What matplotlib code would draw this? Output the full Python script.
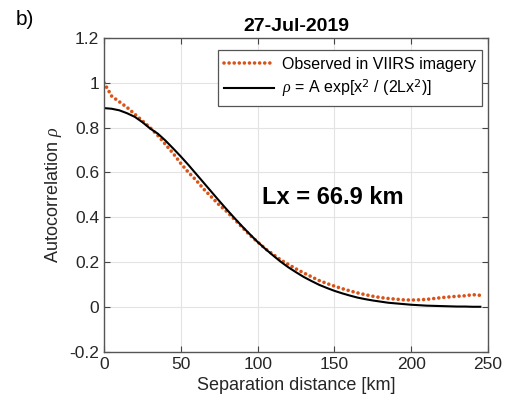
import numpy as np
import matplotlib.pyplot as plt

plt.rcParams['font.family'] = ['Liberation Sans', 'DejaVu Sans']
plt.rcParams['mathtext.fontset'] = 'custom'
plt.rcParams['mathtext.it'] = 'Liberation Serif:italic'

# observed autocorrelation (5 km spacing)
obs_x = np.arange(0, 250, 5)
obs_rho = [1.00, 0.94, 0.915, 0.89, 0.86, 0.83, 0.80, 0.765, 0.725, 0.685,
           0.64, 0.60, 0.565, 0.525, 0.49, 0.455, 0.425, 0.39, 0.355, 0.32,
           0.29, 0.26, 0.235, 0.21, 0.19, 0.17, 0.152, 0.135, 0.118, 0.105,
           0.093, 0.082, 0.072, 0.063, 0.055, 0.048, 0.042, 0.038, 0.035, 0.032,
           0.031, 0.032, 0.034, 0.038, 0.042, 0.045, 0.048, 0.050, 0.055, 0.052]

# fitted gaussian curve (5 km spacing)
fit_x = np.arange(0, 250, 5)
fit_rho = [0.887, 0.884, 0.877, 0.864, 0.848, 0.824, 0.796, 0.773, 0.742, 0.707,
           0.671, 0.633, 0.593, 0.553, 0.513, 0.473, 0.434, 0.396, 0.359, 0.324,
           0.290, 0.259, 0.230, 0.202, 0.177, 0.155, 0.134, 0.116, 0.099, 0.085,
           0.072, 0.061, 0.051, 0.042, 0.035, 0.029, 0.024, 0.019, 0.016, 0.013,
           0.010, 0.008, 0.006, 0.005, 0.004, 0.003, 0.002, 0.002, 0.001, 0.001]

fig = plt.figure(figsize=(5.1, 4.12), dpi=100)
ax = fig.add_axes([0.204, 0.146, 0.753, 0.762])

ax.plot(obs_x, obs_rho, color='#D95319', linewidth=2.6,
        linestyle=(0, (0.01, 1.4)), dash_capstyle='round',
        label='Observed in VIIRS imagery')
ax.plot(fit_x, fit_rho, color='black', linewidth=1.5,
        label=r'$\rho$ = A exp[x$^2$ / (2Lx$^2$)]')

ax.set_xlim(0, 250)
ax.set_ylim(-0.2, 1.2)
ax.set_xticks([0, 50, 100, 150, 200, 250])
ax.set_yticks([-0.2, 0, 0.2, 0.4, 0.6, 0.8, 1, 1.2])
ax.set_yticklabels(['-0.2', '0', '0.2', '0.4', '0.6', '0.8', '1', '1.2'])
ax.tick_params(direction='in', top=True, right=True, labelsize=12.5,
               color='#444444', labelcolor='#262626', length=4)
ax.grid(True, color='#e3e3e3', linewidth=0.8)
for s in ax.spines.values():
    s.set_color('#555555')
    s.set_linewidth(1.0)

ax.set_xlabel('Separation distance [km]', fontsize=13, color='#262626')
ax.set_ylabel(r'Autocorrelation $\rho$', fontsize=13, color='#262626')
ax.set_title('27-Jul-2019', fontsize=14, fontweight='bold', pad=5)

ax.text(149, 0.49, 'Lx = 66.9 km', fontsize=17, fontweight='bold',
        ha='center', va='center')
fig.text(0.03, 0.952, 'b)', fontsize=15, ha='left', va='center')

leg = ax.legend(loc='upper right', fontsize=11.5, fancybox=False,
                framealpha=1, edgecolor='#555555', borderpad=0.4,
                handlelength=3.1, handletextpad=0.5, labelspacing=0.35,
                borderaxespad=0, bbox_to_anchor=(0.985, 0.96))
leg.get_frame().set_linewidth(0.9)

fig.savefig('out.png', dpi=100)
